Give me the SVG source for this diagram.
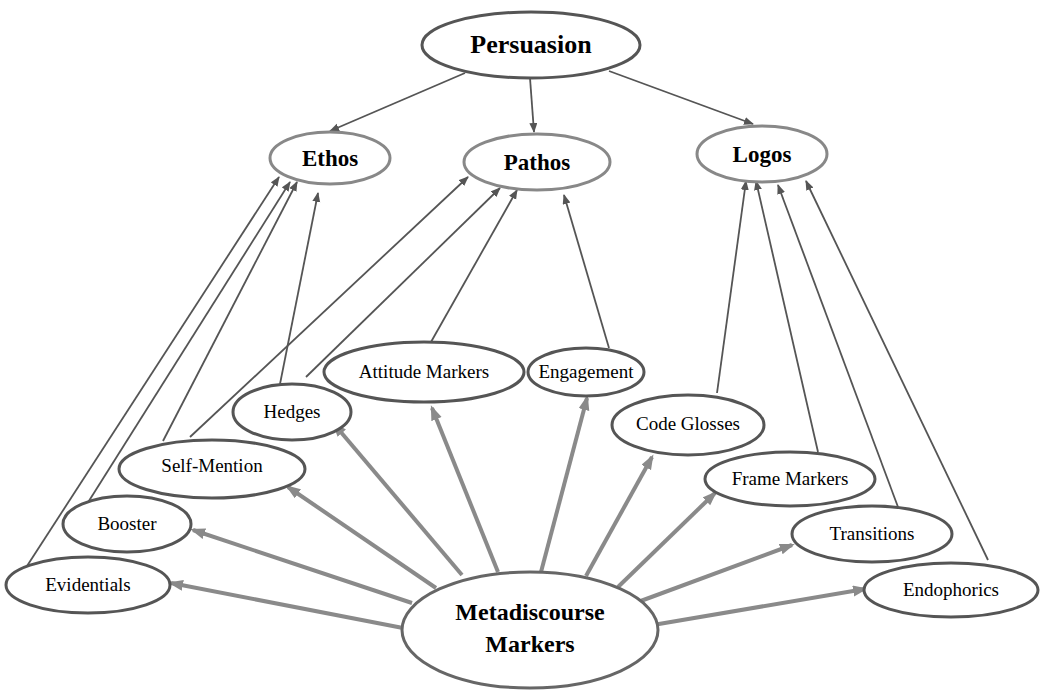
<svg xmlns="http://www.w3.org/2000/svg" width="1045" height="691" viewBox="0 0 1045 691">
<style>
.bg{fill:#fff}
.n{fill:#fff;stroke:#555;stroke-width:3}
.m{fill:#fff;stroke:#888;stroke-width:3}
.big{fill:#fff;stroke:#666;stroke-width:3}
.t{font-family:"Liberation Serif","Times New Roman",serif;fill:#000;text-anchor:middle}
.s{font-size:19px}
.b{font-weight:bold}
.thin{stroke:#555;stroke-width:1.8;fill:none;marker-end:url(#ah)}
.thick{stroke:#8a8a8a;stroke-width:4;fill:none;marker-end:url(#ahb)}
</style>
<defs>
<marker id="ah" markerUnits="userSpaceOnUse" markerWidth="11" markerHeight="9" refX="9" refY="4" orient="auto">
<path d="M0,0 L10,4 L0,8 z" fill="#555"/>
</marker>
<marker id="ahb" markerUnits="userSpaceOnUse" markerWidth="16" markerHeight="12" refX="12" refY="5.5" orient="auto">
<path d="M0,0 L15,5.5 L0,11 z" fill="#8a8a8a"/>
</marker>
</defs>
<rect class="bg" width="1045" height="691"/>
<g id="connectors">
<line class="thin" x1="465" y1="73" x2="330" y2="131"/>
<line class="thin" x1="530" y1="78" x2="534" y2="132"/>
<line class="thin" x1="609" y1="71" x2="753" y2="124"/>
<line class="thin" x1="27" y1="566" x2="279" y2="177"/>
<line class="thin" x1="87" y1="504" x2="290" y2="182"/>
<line class="thin" x1="163" y1="441" x2="297" y2="182"/>
<line class="thin" x1="280" y1="384" x2="318" y2="193"/>
<line class="thin" x1="190" y1="437" x2="468" y2="177"/>
<line class="thin" x1="306" y1="377" x2="500" y2="188"/>
<line class="thin" x1="431" y1="342" x2="517" y2="190"/>
<line class="thin" x1="609" y1="348" x2="564" y2="195"/>
<line class="thin" x1="717" y1="393" x2="746" y2="181"/>
<line class="thin" x1="818" y1="452" x2="756" y2="181"/>
<line class="thin" x1="898" y1="507" x2="778" y2="185"/>
<line class="thin" x1="988" y1="560" x2="806" y2="181"/>
<line class="thick" x1="403" y1="628" x2="171" y2="583"/>
<line class="thick" x1="412" y1="603" x2="193" y2="530"/>
<line class="thick" x1="436" y1="588" x2="288" y2="487"/>
<line class="thick" x1="462" y1="575" x2="334" y2="424"/>
<line class="thick" x1="498" y1="572" x2="432" y2="408"/>
<line class="thick" x1="541" y1="572" x2="587" y2="398"/>
<line class="thick" x1="586" y1="576" x2="652" y2="457"/>
<line class="thick" x1="618" y1="587" x2="715" y2="493"/>
<line class="thick" x1="638" y1="602" x2="792" y2="545"/>
<line class="thick" x1="653" y1="625" x2="865" y2="589"/>
</g>
<g id="persuasion"><ellipse class="n" cx="531" cy="45" rx="109" ry="33"/><text class="t b" x="531" y="53" font-size="26">Persuasion</text></g>
<g id="ethos"><ellipse class="m" cx="330" cy="158" rx="60" ry="26"/><text class="t b" x="330" y="166" font-size="23">Ethos</text></g>
<g id="pathos"><ellipse class="m" cx="537" cy="162" rx="73" ry="28"/><text class="t b" x="537" y="170" font-size="23">Pathos</text></g>
<g id="logos"><ellipse class="m" cx="762" cy="154" rx="65" ry="28"/><text class="t b" x="762" y="162" font-size="23">Logos</text></g>
<g id="attitude"><ellipse class="n" cx="424" cy="372" rx="100" ry="30"/><text class="t s" x="424" y="378">Attitude Markers</text></g>
<g id="engagement"><ellipse class="n" cx="586" cy="372" rx="58" ry="24"/><text class="t s" x="586" y="378">Engagement</text></g>
<g id="hedges"><ellipse class="n" cx="292" cy="412" rx="59" ry="28"/><text class="t s" x="292" y="418">Hedges</text></g>
<g id="codeglosses"><ellipse class="n" cx="688" cy="425" rx="76" ry="30"/><text class="t s" x="688" y="430">Code Glosses</text></g>
<g id="selfmention"><ellipse class="n" cx="212" cy="469" rx="93" ry="29"/><text class="t s" x="212" y="472">Self-Mention</text></g>
<g id="framemarkers"><ellipse class="n" cx="790" cy="479" rx="85" ry="27"/><text class="t s" x="790" y="485">Frame Markers</text></g>
<g id="booster"><ellipse class="n" cx="127" cy="524" rx="64" ry="28"/><text class="t s" x="127" y="530">Booster</text></g>
<g id="transitions"><ellipse class="n" cx="872" cy="534" rx="80" ry="28"/><text class="t s" x="872" y="540">Transitions</text></g>
<g id="evidentials"><ellipse class="n" cx="88" cy="585" rx="82" ry="28"/><text class="t s" x="88" y="591">Evidentials</text></g>
<g id="endophorics"><ellipse class="n" cx="951" cy="590" rx="87" ry="27"/><text class="t s" x="951" y="596">Endophorics</text></g>
<g id="metadiscourse"><ellipse class="big" cx="530" cy="630" rx="128" ry="58"/><text class="t b" x="530" y="620" font-size="24">Metadiscourse</text><text class="t b" x="530" y="652" font-size="24">Markers</text></g>
</svg>
